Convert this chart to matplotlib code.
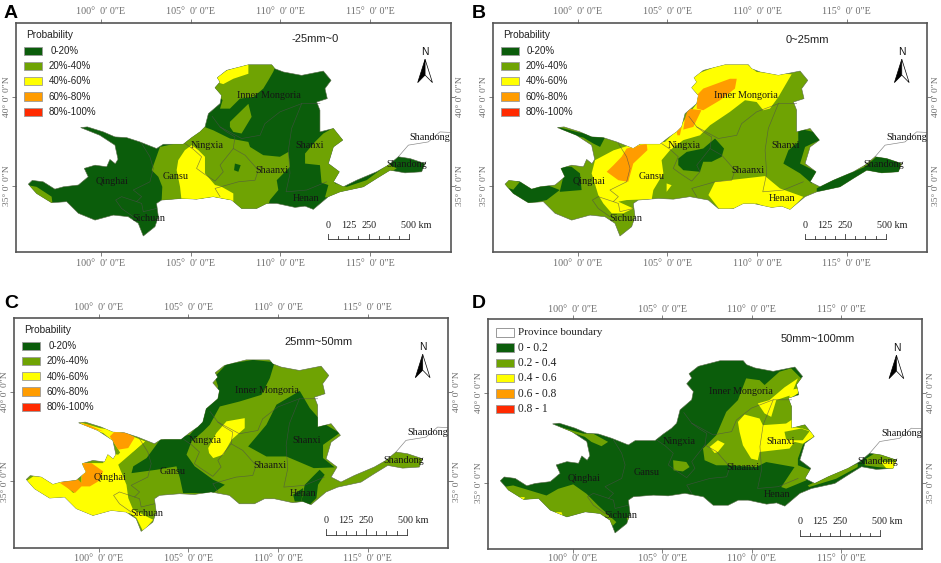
"""Four map panels: probability classes over the Yellow River basin."""
import matplotlib
matplotlib.use("Agg")
import matplotlib.pyplot as plt
from matplotlib.patches import Polygon, Rectangle

DARK = "#0b5d0b"
MID = "#6fa303"
YEL = "#ffff00"
ORG = "#ff9c00"
RED = "#ff2a00"
legend_colors = [DARK, MID, YEL, ORG, RED]

lon_ticks = [100, 105, 110, 115]
lat_ticks = [35, 40]
scale_km = [0, 125, 250, 500]
pct_labels = ["0-20%", "20%-40%", "40%-60%", "60%-80%", "80%-100%"]
val_labels = ["0 - 0.2", "0.2 - 0.4", "0.4 - 0.6", "0.6 - 0.8", "0.8 - 1"]
titles = ["-25mm~0", "0~25mm", "25mm~50mm", "50mm~100mm"]
title_pos = [(.689, .932), (.724, .927), (.702, .895), (.759, .912)]
xtick_pads = [2, 2, 1.5, 0.5]

# basin outline, lon/lat
outline = [(95.95,35.11),(96.17,35.32),(96.78,35.24),(97.43,34.83),(97.9,34.96),(98.74,35.06),(99.29,35.52),
  (99.07,35.99),(99.67,36.17),(100.32,36.08),(100.5,36.49),(100.8,36.25),(100.95,36.5),(100.78,37.29),(99.94,37.84),
  (98.87,38.27),(99.24,38.31),(100.13,38.03),(100.78,37.75),(101.43,37.71),(102.17,37.47),(103.1,37.1),
  (103.48,37.34),(104.59,37.34),(105.06,37.71),(105.52,38.03),(105.8,38.31),(105.99,39.05),(106.64,39.61),
  (106.73,40.07),(106.36,40.5),(106.64,40.82),(106.49,41.06),(107.01,41.47),(108.22,41.78),(109.52,41.78),
  (109.7,41.56),(110.17,41.38),(111.19,41.19),(112.4,41.43),(112.83,40.91),(112.49,40.45),(112.62,39.89),
  (112.03,39.7),(112.21,39.24),(112.21,38.03),(112.96,38.22),(113.48,37.57),(112.96,37.19),(112.68,36.26),
  (113.29,35.8),(112.96,35.24),(113.51,34.96),(114.26,35.33),(115.37,35.8),(116.02,36.17),(116.58,36.64),
  (117.23,36.54),(118.07,36.26),(117.88,35.8),(116.95,35.74),(116.12,35.89),(115.37,35.43),(114.63,34.96),
  (113.33,34.68),(112.68,34.41),(111.84,33.7),(111.38,33.88),(110.82,33.81),(109.8,34.03),(109.24,34.03),
  (108.68,33.75),(107.84,33.75),(107.29,34.22),(106.26,34.41),(105.33,34.27),(104.5,34.31),(103.38,34.22),
  (103.1,34.03),(103.2,33.29),(103.01,32.73),(102.36,32.21),(102.08,32.92),(101.52,33.29),(100.69,33.38),
  (99.67,33.1),(98.74,33.48),(98.09,34.13),(97.25,34.07),(96.41,34.59)]

# province boundaries
shandong_line = [(116.58,36.64),(117.14,37.29),(118.25,37.47),(118.9,38.03),(119.46,38.0)]
shanxi_west = [(111.19,39.61),(110.63,38.22),(110.45,37.01),(110.54,35.71),(110.32,34.68),(111.47,34.78),(112.58,35.24)]
mongolia_south = [(106.64,38.31),(107.84,37.66),(108.87,37.84),(109.14,38.49),(109.98,39.15),(111.19,39.61),(112.21,39.61)]
ningxia_line = [(104.68,37.38),(105.15,37.06),(105.61,36.64),(105.33,35.99),(105.71,35.71),(106.36,35.28),(106.82,35.8),
  (106.64,36.17),(107.38,37.1),(107.47,37.75),(107.01,38.03),(106.64,38.31),(106.2,38.9)]
shaanxi_line = [(107.38,37.1),(108.03,36.73),(108.77,35.89),(108.59,35.33),(107.66,35.24),(106.36,34.87),(106.64,34.41)]
qinghai_line = [(102.27,37.38),(102.73,36.64),(102.92,35.99),(102.73,35.24),(101.8,34.78),(102.27,34.41),(101.99,34.13),
  (101.15,34.41),(100.82,34.22),(101.15,33.75),(101.8,33.29)]
sichuan_line = [(101.99,34.13),(102.27,34.03),(102.36,33.57),(103.1,33.75)]
boundaries = [shandong_line, shanxi_west, mongolia_south, ningxia_line, shaanxi_line, qinghai_line, sichuan_line]

region_names = ["Inner Mongoria", "Ningxia", "Shanxi", "Gansu", "Shaanxi", "Qinghai", "Henan", "Sichuan", "Shandong", "Shandong"]
region_lon = [109.39, 105.93, 111.62, 104.14, 109.52, 100.61, 111.41, 102.68, 118.35, 117.04]
region_lat = [40.07, 37.27, 37.29, 35.56, 35.86, 35.24, 34.33, 33.2, 37.73, 36.19]

# panel A zones, base is dark green
a_mid1 = [(106.26,40.5),(106.45,41.06),(108.22,41.84),(109.8,41.84),(109.6,41.38),(109.33,40.91),(109.05,40.45),
  (108.5,39.98),(107.75,39.89),(107.19,39.33),(106.64,39.33),(106.78,39.8)]
a_top = [(106.45,41.06),(107.01,41.47),(108.22,41.85),(108.22,41.28),(107.38,41.0),(106.82,40.7),(106.5,40.8)]
a_patch = [(107.19,38.59),(108.22,39.6),(108.4,38.87),(107.84,37.94),(107.38,38.03),(107.19,38.31)]
a_mid2 = [(105.52,38.4),(106.26,38.12),(107.19,37.66),(108.22,37.47),(108.31,37.19),(109.05,36.73),(109.98,36.64),
  (110.45,36.91),(110.54,36.08),(109.8,35.33),(109.89,34.78),(109.42,34.22),(109.24,33.66),(107.75,33.66),
  (107.19,34.22),(106.26,34.31),(104.5,34.22),(103.38,34.13),(103.42,34.96),(103.2,35.52),(102.83,35.89),
  (103.29,37.19),(104.59,37.47),(105.06,37.84)]
a_lake = [(107.47,36.26),(107.79,36.17),(107.66,35.8),(107.42,35.89)]
a_yel = [(104.31,36.45),(104.68,37.01),(105.06,37.29),(105.43,37.01),(105.8,36.64),(105.8,35.71),(106.36,35.06),
  (106.73,34.96),(107.38,34.59),(107.38,34.03),(106.64,34.22),(104.5,34.13),(104.41,34.96),(104.22,35.89)]
a_mid3 = [(113.05,38.31),(113.61,37.57),(112.96,37.1),(112.68,36.26),(113.42,35.8),(113.05,35.15),(113.7,34.96),
  (114.81,35.33),(116.02,36.23),(116.49,35.99),(115.37,35.33),(114.44,34.78),(113.14,34.41),(112.49,34.37),
  (112.68,35.06),(112.3,35.19),(112.21,36.17),(111.38,36.26),(111.38,36.82),(111.93,37.47),(112.4,37.94)]
a_west = [(95.85,35.06),(96.41,34.96),(97.25,34.41),(97.3,34.0),(96.41,34.4)]

# panel B zones, base is mid green
b_yel = [(106.36,40.5),(106.45,41.19),(108.12,41.84),(109.42,41.84),(109.98,41.38),(111.93,41.25),(111.19,39.98),
  (110.72,39.33),(110.35,39.24),(109.98,39.7),(109.33,39.8),(108.49,39.15),(107.38,38.4),(106.82,37.84),
  (105.89,37.57),(105.15,37.01),(104.68,36.45),(104.78,35.71),(104.22,34.78),(104.13,34.27),(102.73,34.22),
  (102.27,34.13),(103.1,33.75),(102.55,33.48),(101.9,33.48),(101.43,34.03),(101.15,34.5),(100.78,35.71),
  (100.97,36.45),(102.0,37.0),(102.92,37.29),(103.85,37.38),(104.87,37.47),(105.61,38.2),(106.08,38.87),(106.64,39.61)]
b_org1 = [(106.64,40.07),(107.0,40.45),(108.49,41.0),(108.87,41.0),(108.77,40.45),(107.94,39.8),(107.0,39.24),(106.64,39.33)]
b_org2 = [(106.17,39.33),(106.9,39.24),(106.45,38.31),(105.89,38.16),(105.98,38.77)]
b_org3 = [(105.5,38.2),(105.8,38.31),(105.7,37.84),(105.56,37.84)]
b_org4 = [(102.73,37.1),(103.85,37.38),(103.89,37.01),(103.1,36.26),(102.82,35.24),(102.27,35.33),(101.62,35.8),
  (102.0,36.17),(102.45,36.64)]
b_nw = [(98.88,38.31),(99.94,38.03),(100.87,37.84),(101.52,37.71),(101.25,37.19),(100.87,37.38),(100.32,37.71),(99.39,37.94)]
b_west = [(95.85,34.96),(96.78,35.33),(97.62,35.33),(99.0,34.78),(98.27,34.22),(97.34,34.03),(96.4,34.4)]
b_sliver = [(95.95,34.96),(96.13,35.33),(96.78,35.24),(96.41,34.8)]
b_qh = [(99.0,36.13),(99.66,36.08),(100.13,35.71),(100.22,34.78),(99.0,34.68),(99.2,35.52)]
b_nx = [(105.61,36.54),(106.08,36.91),(107.0,37.1),(107.66,37.66),(108.16,37.1),(108.03,36.64),(107.47,36.36),(107.0,36.36),
  (106.82,35.8),(105.89,35.89),(105.61,36.17)]
b_sx = [(112.3,38.22),(113.14,38.03),(113.5,37.57),(112.68,37.19),(112.4,36.26),(113.33,35.8),(113.05,35.15),(112.4,35.71),
  (111.47,36.26),(111.75,37.0),(112.3,37.47)]
b_sd = [(113.33,34.87),(114.26,35.43),(115.37,35.8),(116.02,36.08),(116.76,36.73),(117.97,36.36),(117.97,35.7),(116.1,35.7),
  (115.37,35.33),(114.44,34.78),(113.33,34.68)]
b_south = [(107.66,35.24),(110.45,35.56),(111.28,34.87),(112.58,34.4),(111.84,33.66),(110.72,33.75),(109.98,34.03),
  (108.68,33.75),(107.94,33.66),(107.29,34.5)]
b_small = [(104.96,35.15),(105.24,35.05),(104.96,34.68)]

# panel C zones, base is mid green
c_north = [(106.47,40.85),(107.12,41.54),(108.6,41.78),(109.81,41.65),(109.54,40.76),(109.07,39.83),(107.86,39.46),
  (106.75,39.18),(106.19,38.16),(105.82,37.79),(105.17,37.23),(104.89,36.49),(105.35,35.84),(106.38,35.09),(107.03,34.81),
  (106.38,34.35),(104.7,34.35),(104.52,35.19),(104.33,35.84),(103.22,35.65),(101.82,35.46),(101.92,35.84),(102.66,36.3),
  (103.41,37.32),(105.07,37.6),(105.72,38.35),(106.1,39.46),(106.56,39.83),(106.65,40.3)]
c_shanxi = [(108.33,36.95),(109.35,38.16),(109.91,39.28),(111.21,40.05),(111.77,39.09),(112.51,38.25),(113.44,37.7),
  (112.51,37.04),(112.51,36.3),(113.16,35.78),(111.99,35.74),(110.46,36.39),(109.35,36.39)]
c_henan1 = [(111.95,35.28),(112.32,35.65),(112.6,35.37),(112.23,34.81),(112.14,34.07),(111.77,33.7),(111.3,33.88),(111.49,34.81)]
c_henan2 = [(110.84,34.26),(111.4,34.63),(111.3,33.88),(110.93,33.88)]
c_nx = [(106.1,36.86),(106.56,37.7),(107.12,38.35),(108.14,38.53),(108.14,37.97),(107.4,37.32),(106.93,36.49),(106.38,36.3),(106.15,36.58)]
c_west = [(95.93,35.0),(96.34,35.28),(97.64,35.28),(98.57,34.35),(99.03,34.81),(99.03,36.02),(100.24,36.02),(100.43,36.58),
  (101.08,36.49),(101.91,37.42),(102.57,37.23),(101.73,36.49),(101.08,35.93),(101.54,34.81),(101.64,34.07),(101.91,33.42),
  (103.03,32.86),(102.47,32.21),(102.1,32.96),(101.73,33.23),(100.43,33.14),(99.5,33.05),(98.75,33.33),(98.01,34.07),
  (97.17,34.07),(96.15,34.63)]
c_strip = [(98.9,38.31),(100.06,37.97),(100.8,37.88),(101.91,37.5),(102.57,37.23),(101.91,36.67),(101.26,36.49),(100.8,37.23),
  (100.24,37.7),(99.31,37.97)]
c_org1 = [(98.94,38.25),(99.4,38.16),(100.24,37.79),(99.5,37.97)]
c_org2 = [(100.89,37.79),(101.36,37.83),(102.0,37.45),(101.64,36.86),(101.08,36.77),(100.61,37.51)]
c_org3 = [(97.83,34.91),(98.66,35.28),(99.03,34.91),(99.09,36.02),(99.59,36.02),(100.24,35.56),(99.96,35.0),(99.5,34.72),
  (99.03,34.72),(98.66,34.35)]

# panel D zones, base is dark green
d_mid = [(107.27,36.9),(108.01,37.64),(108.57,38.94),(109.22,39.59),(109.68,40.8),(110.43,40.7),(110.71,40.43),(111.54,41.17),
  (112.19,41.36),(112.75,40.8),(112.66,40.06),(112.19,39.68),(112.38,38.66),(113.4,37.83),(112.84,37.08),(112.57,36.34),
  (112.57,35.97),(113.31,35.69),(113.03,35.13),(111.91,34.67),(111.64,34.76),(112.38,35.87),(110.8,36.15),(110.24,35.87),
  (108.75,35.97),(108.01,35.97),(107.36,36.25)]
d_yel1 = [(109.22,38.38),(109.59,38.79),(110.43,38.57),(110.61,38.2),(111.91,38.29),(112.38,38.6),(112.29,38.1),(112.84,38.01),
  (113.4,37.83),(113.45,37.55),(112.84,37.17),(112.38,37.27),(112.1,36.9),(110.43,36.71),(110.33,36.25),(109.96,36.34),
  (109.5,37.08),(109.31,37.83)]
d_mid2 = [(111.82,37.83),(112.75,38.01),(113.22,37.86),(112.84,37.36),(112.38,37.36),(111.91,37.42)]
d_yel2 = [(110.33,39.41),(110.98,39.59),(111.82,40.3),(112.57,40.8),(112.19,39.87),(111.36,39.59),(111.08,38.66),(110.71,38.85)]
d_yel3 = [(112.1,40.15),(112.57,40.24),(112.57,39.96),(112.1,39.68)]
d_yel4 = [(107.64,36.99),(108.1,37.36),(108.48,37.17),(108.1,36.71),(107.92,36.65)]
d_center = [(105.6,36.25),(106.34,36.15),(106.52,35.87),(106.15,35.63),(105.63,35.69)]
d_nw = [(98.9,38.2),(100.58,37.73),(101.13,37.73),(101.97,37.27),(101.6,37.03),(101.04,37.27),(100.67,37.55),(99.83,37.83)]
d_sw = [(96.12,34.76),(96.67,34.85),(98.53,34.29),(99.18,34.66),(100.02,34.91),(100.76,34.39),(101.41,33.74),(102.43,32.81),
  (102.25,32.62),(101.78,33.09),(100.76,33.36),(99.65,33.09),(98.9,33.36),(97.97,33.92),(97.04,33.92),(96.39,34.39)]
d_tiny1 = [(96.95,34.2),(97.32,34.2),(97.23,33.96)]
d_tiny2 = [(98.81,33.36),(99.37,33.36),(99.46,33.09),(99.09,33.18)]
d_sich = [(102.99,33.09),(103.36,32.9),(103.09,32.84)]
d_sd1 = [(113.12,34.85),(114.52,35.5),(115.91,36.06),(115.91,35.87),(114.7,35.22),(113.2,34.76)]
d_sd2 = [(116.38,36.34),(116.84,36.62),(117.49,36.62),(118.14,36.25),(118.05,35.78),(117.03,35.87),(116.29,35.97)]
d_sd3 = [(117.21,36.15),(118.05,36.15),(118.05,35.74),(117.49,35.82)]

panels = [
  (DARK, [(MID, a_mid1), (YEL, a_top), (MID, a_patch), (MID, a_mid2), (DARK, a_lake), (YEL, a_yel), (MID, a_mid3), (MID, a_west)]),
  (MID, [(YEL, b_yel), (ORG, b_org1), (ORG, b_org2), (ORG, b_org3), (ORG, b_org4), (DARK, b_nw), (DARK, b_west), (MID, b_sliver),
         (DARK, b_qh), (DARK, b_nx), (DARK, b_sx), (DARK, b_sd), (YEL, b_south), (YEL, b_small)]),
  (MID, [(DARK, c_north), (DARK, c_shanxi), (DARK, c_henan1), (DARK, c_henan2), (YEL, c_nx), (YEL, c_west), (YEL, c_strip),
         (ORG, c_org1), (ORG, c_org2), (ORG, c_org3)]),
  (DARK, [(MID, d_mid), (YEL, d_yel1), (MID, d_mid2), (YEL, d_yel2), (YEL, d_yel3), (YEL, d_yel4), (MID, d_center), (MID, d_nw),
          (MID, d_sw), (YEL, d_tiny1), (YEL, d_tiny2), (MID, d_sich), (MID, d_sd1), (MID, d_sd2), (YEL, d_sd3)]),
]

W, H = 941, 563
fig = plt.figure(figsize=(W / 100, H / 100), dpi=100, facecolor="white")
boxes = [(16.3, 23.3, 434.4, 229), (493, 23.3, 434.4, 229), (14.3, 318.3, 434, 229.4), (488.3, 319, 433.7, 230.3)]
letters = [("A", 4, 18), ("B", 472, 18), ("C", 4, 308), ("D", 472, 308)]
GRAY = "#6b6b6b"
SERIF = "Liberation Serif"
SANS = "Liberation Sans"

for i, (base, zones) in enumerate(panels):
  l, t, w, h = boxes[i]
  ax = fig.add_axes([l / W, 1 - (t + h) / H, w / W, h / H])
  ax.set_xlim(95.28, 119.5)
  ax.set_ylim(31.3, 44.1)

  basin = Polygon(outline, closed=True, fc=base, ec="#5a6a4a", lw=0.4, zorder=1)
  ax.add_patch(basin)
  for color, pts in zones:
    p = Polygon(pts, closed=True, fc=color, ec="none", zorder=2)
    ax.add_patch(p)
    p.set_clip_path(basin)
  for line in boundaries:
    ax.plot([q[0] for q in line], [q[1] for q in line], color="#4d4d4d", lw=0.45, alpha=0.7, zorder=3)
  for name, x, y in zip(region_names, region_lon, region_lat):
    ax.text(x, y, name, family=SERIF, fontsize=7.3, color="#151515", ha="center", va="center", zorder=4)

  # graticule labels
  ax.set_xticks(lon_ticks)
  ax.set_xticklabels([f"{v}°  0′ 0″E" for v in lon_ticks], family=SERIF, fontsize=7.2, color=GRAY)
  ax.set_yticks(lat_ticks)
  ax.set_yticklabels([f"{v}° 0′ 0″N" for v in lat_ticks], family=SERIF, fontsize=6.8, color=GRAY, rotation=90, va="center")
  ax.tick_params(top=True, right=True, labeltop=True, labelright=True, length=3, width=0.6, color=GRAY)
  ax.tick_params(axis="x", pad=xtick_pads[i])
  ax.tick_params(axis="y", pad=0.5, labelrotation=90)
  for s in ax.spines.values():
    s.set_color("#555555")
    s.set_linewidth(1.2)

  # legend
  tr = ax.transAxes
  if i < 3:
    ax.text(.023, .95, "Probability", transform=tr, family=SANS, fontsize=7.3, color="#222222", va="center")
    labels, y0, tx, fam, fs = pct_labels, .862, None, SANS, 7
  else:
    ax.add_patch(Rectangle((.018, .923), .042, .036, transform=tr, fc="white", ec="#888888", lw=0.6))
    ax.text(.068, .941, "Province boundary", transform=tr, family=SERIF, fontsize=8, color="#222222", va="center")
    labels, y0, tx, fam, fs = val_labels, .858, .068, SERIF, 8.3
  for k, (c, lab) in enumerate(zip(legend_colors, labels)):
    y = y0 - k * .0665
    ax.add_patch(Rectangle((.018, y), .042, .036, transform=tr, fc=c, ec="#9a9a9a", lw=0.6, zorder=5))
    ax.text(tx if tx else .0745 + (.004 if k == 0 else 0), y + .017, lab, transform=tr, family=fam, fontsize=fs,
            color="#222222", va="center")

  ax.text(title_pos[i][0], title_pos[i][1], titles[i], transform=tr, family=SANS, fontsize=8, color="#222222", ha="center", va="center")

  # north arrow
  ax.text(.941, .876, "N", transform=tr, family=SANS, fontsize=7.5, ha="center", va="center", color="#111111")
  ax.add_patch(Polygon([(.941, .843), (.924, .741), (.941, .774)], closed=True, transform=tr, fc="black", ec="black", lw=0.5))
  ax.add_patch(Polygon([(.941, .843), (.958, .741), (.941, .774)], closed=True, transform=tr, fc="white", ec="black", lw=0.5))

  # scale bar
  x0, x1 = .718, .904
  ax.plot([x0, x1], [.057, .057], transform=tr, color="#333333", lw=0.6, clip_on=False)
  for k in range(9):
    xt = x0 + (x1 - x0) * k / 8
    top = .082 if k % 4 == 0 else .072
    ax.plot([xt, xt], [.057, top], transform=tr, color="#333333", lw=0.6)
  for km in scale_km:
    xt = x0 + (x1 - x0) * km / 500
    lab = f"{km} km" if km == 500 else str(km)
    ax.text(xt + (.016 if km == 500 else 0), .119, lab, transform=tr, family=SERIF, fontsize=7.3, color="#222222", ha="center", va="center")

for letter, x, y in letters:
  fig.text(x / W, 1 - y / H, letter, family=SANS, fontsize=14, fontweight="bold", color="black", va="baseline")

fig.savefig("out.png", dpi=100)
